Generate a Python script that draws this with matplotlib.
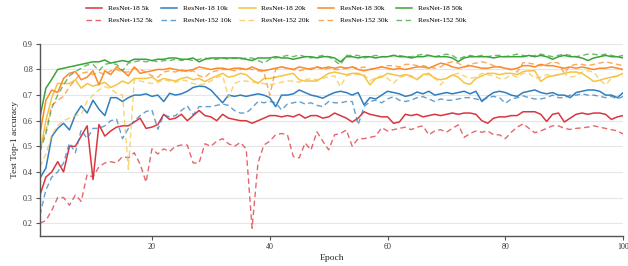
import numpy as np
import matplotlib
matplotlib.use('Agg')
import matplotlib.pyplot as plt

plt.rcParams['font.family'] = ['Liberation Serif', 'DejaVu Serif']

epochs = np.arange(1, 101)

r18_5k = [
    0.31, 0.38, 0.40, 0.44, 0.40, 0.50, 0.50, 0.54, 0.58, 0.37,
    0.585, 0.54, 0.56, 0.575, 0.58, 0.58, 0.595, 0.61, 0.57, 0.575,
    0.585, 0.625, 0.605, 0.61, 0.625, 0.60, 0.62, 0.64, 0.62, 0.615,
    0.60, 0.625, 0.61, 0.605, 0.60, 0.60, 0.59, 0.60, 0.61, 0.62,
    0.62, 0.615, 0.62, 0.615, 0.625, 0.61, 0.62, 0.62, 0.61, 0.615,
    0.63, 0.62, 0.61, 0.595, 0.61, 0.635, 0.625, 0.62, 0.615, 0.615,
    0.59, 0.595, 0.625, 0.62, 0.625, 0.615, 0.62, 0.625, 0.62, 0.625,
    0.63, 0.625, 0.63, 0.63, 0.625, 0.60, 0.59, 0.61, 0.615, 0.615,
    0.62, 0.62, 0.635, 0.635, 0.635, 0.625, 0.597, 0.625, 0.63, 0.595,
    0.61, 0.625, 0.63, 0.625, 0.63, 0.63, 0.625, 0.605, 0.615, 0.62]
r152_5k = [
    0.20, 0.21, 0.25, 0.30, 0.30, 0.27, 0.31, 0.285, 0.39, 0.38,
    0.42, 0.435, 0.44, 0.435, 0.46, 0.455, 0.475, 0.43, 0.36, 0.49,
    0.47, 0.49, 0.48, 0.50, 0.505, 0.505, 0.435, 0.435, 0.51, 0.50,
    0.52, 0.53, 0.51, 0.50, 0.515, 0.49, 0.18, 0.435, 0.505, 0.52,
    0.545, 0.55, 0.545, 0.46, 0.455, 0.513, 0.486, 0.557, 0.52, 0.486,
    0.545, 0.55, 0.564, 0.50, 0.53, 0.53, 0.535, 0.54, 0.573, 0.56,
    0.565, 0.57, 0.575, 0.565, 0.575, 0.58, 0.545, 0.56, 0.565, 0.555,
    0.57, 0.584, 0.535, 0.55, 0.56, 0.555, 0.56, 0.545, 0.545, 0.53,
    0.555, 0.575, 0.588, 0.57, 0.553, 0.56, 0.57, 0.58, 0.58, 0.57,
    0.566, 0.57, 0.572, 0.575, 0.58, 0.575, 0.57, 0.565, 0.56, 0.548]
r18_10k = [
    0.376, 0.415, 0.538, 0.57, 0.59, 0.564, 0.623, 0.658, 0.63, 0.68,
    0.645, 0.62, 0.69, 0.69, 0.675, 0.69, 0.70, 0.70, 0.705, 0.695,
    0.70, 0.675, 0.707, 0.70, 0.705, 0.715, 0.73, 0.735, 0.733, 0.72,
    0.695, 0.67, 0.70, 0.695, 0.70, 0.695, 0.70, 0.705, 0.70, 0.69,
    0.655, 0.70, 0.70, 0.705, 0.72, 0.71, 0.70, 0.695, 0.688, 0.70,
    0.71, 0.715, 0.71, 0.70, 0.71, 0.662, 0.69, 0.685, 0.70, 0.715,
    0.71, 0.705, 0.695, 0.70, 0.712, 0.705, 0.715, 0.70, 0.705, 0.71,
    0.705, 0.71, 0.715, 0.705, 0.715, 0.675, 0.695, 0.71, 0.715, 0.71,
    0.70, 0.695, 0.71, 0.715, 0.72, 0.71, 0.705, 0.71, 0.70, 0.70,
    0.69, 0.71, 0.715, 0.72, 0.72, 0.715, 0.70, 0.70, 0.69, 0.71]
r152_10k = [
    0.232, 0.33, 0.38, 0.40, 0.435, 0.513, 0.475, 0.564, 0.53, 0.57,
    0.57, 0.58, 0.60, 0.606, 0.53, 0.57, 0.60, 0.62, 0.636, 0.642,
    0.567, 0.623, 0.615, 0.62, 0.64, 0.658, 0.623, 0.655, 0.655, 0.655,
    0.66, 0.665, 0.66, 0.64, 0.63, 0.63, 0.65, 0.675, 0.67, 0.675,
    0.67, 0.642, 0.665, 0.67, 0.675, 0.665, 0.67, 0.66, 0.655, 0.675,
    0.67, 0.67, 0.675, 0.675, 0.584, 0.655, 0.675, 0.68, 0.67, 0.685,
    0.694, 0.68, 0.675, 0.68, 0.69, 0.694, 0.685, 0.675, 0.685, 0.68,
    0.68, 0.685, 0.69, 0.69, 0.685, 0.68, 0.69, 0.695, 0.69, 0.668,
    0.685, 0.69, 0.697, 0.69, 0.685, 0.685, 0.69, 0.70, 0.69, 0.69,
    0.70, 0.70, 0.705, 0.70, 0.70, 0.695, 0.69, 0.695, 0.685, 0.695]
r18_20k = [
    0.48, 0.60, 0.69, 0.746, 0.745, 0.745, 0.76, 0.727, 0.745, 0.735,
    0.742, 0.75, 0.73, 0.74, 0.755, 0.745, 0.765, 0.765, 0.765, 0.77,
    0.755, 0.765, 0.76, 0.755, 0.765, 0.77, 0.76, 0.765, 0.753, 0.765,
    0.775, 0.785, 0.77, 0.775, 0.785, 0.78, 0.76, 0.746, 0.765, 0.765,
    0.77, 0.775, 0.78, 0.785, 0.76, 0.755, 0.755, 0.755, 0.77, 0.785,
    0.79, 0.785, 0.78, 0.785, 0.785, 0.775, 0.74, 0.765, 0.77, 0.785,
    0.78, 0.775, 0.78, 0.775, 0.76, 0.78, 0.785, 0.765, 0.76, 0.765,
    0.779, 0.77, 0.748, 0.742, 0.765, 0.775, 0.785, 0.785, 0.78, 0.785,
    0.785, 0.78, 0.792, 0.795, 0.795, 0.753, 0.77, 0.775, 0.78, 0.785,
    0.79, 0.79, 0.785, 0.77, 0.753, 0.758, 0.765, 0.77, 0.775, 0.785]
r152_20k = [
    0.42, 0.47, 0.545, 0.58, 0.60, 0.61, 0.62, 0.625, 0.675, 0.70,
    0.72, 0.733, 0.725, 0.707, 0.70, 0.41, 0.76, 0.755, 0.75, 0.745,
    0.75, 0.76, 0.755, 0.75, 0.76, 0.755, 0.745, 0.74, 0.745, 0.755,
    0.77, 0.775, 0.69, 0.745, 0.755, 0.755, 0.75, 0.75, 0.745, 0.74,
    0.745, 0.75, 0.755, 0.755, 0.75, 0.76, 0.765, 0.76, 0.765, 0.772,
    0.775, 0.733, 0.775, 0.78, 0.78, 0.78, 0.755, 0.77, 0.775, 0.765,
    0.746, 0.77, 0.775, 0.77, 0.765, 0.775, 0.78, 0.77, 0.74, 0.765,
    0.78, 0.785, 0.775, 0.765, 0.77, 0.785, 0.78, 0.775, 0.765, 0.765,
    0.78, 0.77, 0.785, 0.785, 0.766, 0.77, 0.78, 0.775, 0.78, 0.785,
    0.77, 0.775, 0.79, 0.795, 0.79, 0.76, 0.74, 0.765, 0.775, 0.775]
r18_30k = [
    0.55, 0.68, 0.72, 0.71, 0.765, 0.785, 0.792, 0.76, 0.77, 0.795,
    0.74, 0.795, 0.78, 0.81, 0.795, 0.775, 0.81, 0.785, 0.79, 0.795,
    0.80, 0.80, 0.805, 0.80, 0.795, 0.795, 0.80, 0.81, 0.805, 0.80,
    0.805, 0.805, 0.80, 0.805, 0.805, 0.80, 0.81, 0.80, 0.795, 0.80,
    0.805, 0.81, 0.805, 0.80, 0.81, 0.805, 0.80, 0.81, 0.805, 0.81,
    0.805, 0.81, 0.805, 0.81, 0.80, 0.795, 0.80, 0.805, 0.81, 0.805,
    0.80, 0.805, 0.80, 0.805, 0.81, 0.81, 0.805, 0.815, 0.825, 0.82,
    0.81, 0.805, 0.81, 0.815, 0.81, 0.805, 0.805, 0.81, 0.81, 0.805,
    0.80, 0.805, 0.815, 0.815, 0.81, 0.82, 0.815, 0.815, 0.81, 0.805,
    0.81, 0.805, 0.81, 0.805, 0.80, 0.805, 0.805, 0.81, 0.805, 0.80]
r152_30k = [
    0.49, 0.56, 0.66, 0.68, 0.695, 0.733, 0.76, 0.785, 0.79, 0.78,
    0.79, 0.78, 0.795, 0.80, 0.79, 0.79, 0.805, 0.80, 0.79, 0.775,
    0.77, 0.79, 0.795, 0.79, 0.80, 0.79, 0.795, 0.775, 0.77, 0.79,
    0.795, 0.80, 0.80, 0.795, 0.80, 0.805, 0.80, 0.795, 0.79, 0.70,
    0.80, 0.81, 0.805, 0.80, 0.795, 0.80, 0.805, 0.81, 0.80, 0.805,
    0.80, 0.80, 0.805, 0.81, 0.805, 0.81, 0.80, 0.805, 0.81, 0.815,
    0.815, 0.81, 0.82, 0.82, 0.815, 0.815, 0.81, 0.805, 0.81, 0.825,
    0.83, 0.825, 0.81, 0.82, 0.825, 0.83, 0.825, 0.815, 0.81, 0.805,
    0.80, 0.79, 0.827, 0.825, 0.82, 0.815, 0.82, 0.83, 0.825, 0.785,
    0.815, 0.82, 0.82, 0.815, 0.82, 0.825, 0.83, 0.825, 0.82, 0.815]
r18_50k = [
    0.616, 0.727, 0.762, 0.80, 0.805, 0.81, 0.815, 0.82, 0.825, 0.83,
    0.83, 0.837, 0.825, 0.83, 0.835, 0.83, 0.84, 0.84, 0.84, 0.835,
    0.84, 0.84, 0.845, 0.845, 0.84, 0.84, 0.845, 0.83, 0.84, 0.845,
    0.845, 0.845, 0.845, 0.845, 0.845, 0.84, 0.835, 0.845, 0.845, 0.845,
    0.85, 0.845, 0.845, 0.84, 0.845, 0.85, 0.85, 0.845, 0.85, 0.85,
    0.845, 0.83, 0.85, 0.85, 0.845, 0.85, 0.85, 0.845, 0.85, 0.85,
    0.855, 0.85, 0.85, 0.845, 0.85, 0.85, 0.855, 0.85, 0.85, 0.85,
    0.845, 0.831, 0.845, 0.85, 0.85, 0.85, 0.85, 0.845, 0.85, 0.85,
    0.85, 0.85, 0.85, 0.855, 0.85, 0.855, 0.85, 0.84, 0.85, 0.855,
    0.85, 0.85, 0.845, 0.835, 0.845, 0.85, 0.855, 0.85, 0.85, 0.845]
r152_50k = [
    0.48, 0.55, 0.65, 0.70, 0.74, 0.775, 0.792, 0.805, 0.818, 0.82,
    0.795, 0.82, 0.825, 0.82, 0.795, 0.825, 0.83, 0.835, 0.83, 0.835,
    0.83, 0.835, 0.835, 0.84, 0.835, 0.84, 0.835, 0.84, 0.845, 0.84,
    0.84, 0.845, 0.84, 0.845, 0.84, 0.845, 0.845, 0.835, 0.825, 0.84,
    0.845, 0.85, 0.855, 0.85, 0.857, 0.85, 0.845, 0.85, 0.855, 0.85,
    0.835, 0.818, 0.855, 0.855, 0.855, 0.845, 0.85, 0.855, 0.85, 0.85,
    0.855, 0.855, 0.85, 0.85, 0.855, 0.86, 0.855, 0.85, 0.855, 0.86,
    0.855, 0.84, 0.85, 0.855, 0.85, 0.855, 0.85, 0.855, 0.855, 0.85,
    0.855, 0.86, 0.855, 0.85, 0.855, 0.86, 0.855, 0.85, 0.855, 0.86,
    0.855, 0.85, 0.855, 0.86, 0.86, 0.855, 0.86, 0.855, 0.85, 0.855]

sizes = ['5k', '10k', '20k', '30k', '50k']
colors = ['#d9363e', '#2f7fbf', '#f5c445', '#fb8a2a', '#3aa33a']
series_18 = [r18_5k, r18_10k, r18_20k, r18_30k, r18_50k]
series_152 = [r152_5k, r152_10k, r152_20k, r152_30k, r152_50k]

fig = plt.figure(figsize=(6.28, 2.66), dpi=100)
ax = fig.add_axes([0.0637, 0.113, 0.9287, 0.722])

for size, color, y18, y152 in zip(sizes, colors, series_18, series_152):
    ax.plot(epochs, y18, color=color, lw=1.1, label=f'ResNet-18 {size}')
    ax.plot(epochs, y152, color=color, lw=1.0, ls=(0, (4, 2.5)), alpha=0.75,
            label=f'ResNet-152 {size}')

ax.set_xlim(1, 100)
ax.set_ylim(0.15, 0.9)
ax.set_xticks([20, 40, 60, 80, 100])
ax.set_yticks([0.2, 0.3, 0.4, 0.5, 0.6, 0.7, 0.8, 0.9])
ax.yaxis.grid(True, color='#e6e6e6', lw=0.8)
ax.set_axisbelow(True)
for side in ['top', 'right']:
    ax.spines[side].set_visible(False)
for side in ['left', 'bottom']:
    ax.spines[side].set_color('#555555')
    ax.spines[side].set_linewidth(1.0)
ax.tick_params(labelsize=5.8, length=3, width=0.8, color='#555555', pad=2,
               labelcolor='#333333')
ax.set_xlabel('Epoch', fontsize=6.8, labelpad=2, color='#222222')
ax.set_ylabel('Test Top-1 accuracy', fontsize=6.8, labelpad=3, color='#222222')

fig.legend(loc='upper center', bbox_to_anchor=(0.44, 1.005), ncol=5,
           frameon=False, fontsize=5.3, handlelength=2.2, handletextpad=0.8,
           columnspacing=1.1, labelspacing=0.8)

fig.savefig('out.png', dpi=100)
